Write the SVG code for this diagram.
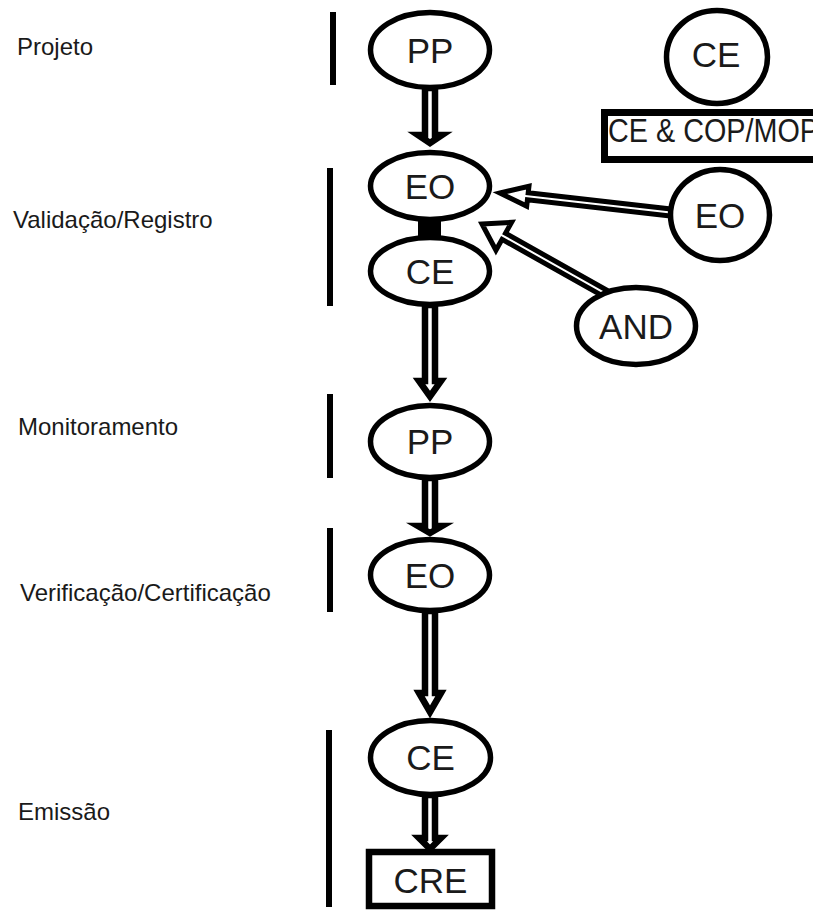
<svg xmlns="http://www.w3.org/2000/svg" width="813" height="911" viewBox="0 0 813 911">
<style>
.node{fill:#fff;stroke:#000;stroke-width:5.5}
.box{fill:#fff;stroke:#000;stroke-width:6.5}
.nt{font-family:"Liberation Sans",Arial,sans-serif;font-size:35px;fill:#1a1a1a;text-anchor:middle}
.lbl{font-family:"Liberation Sans",Arial,sans-serif;font-size:24px;fill:#1a1a1a}
.bar{stroke:#000;stroke-width:6}
.va{fill:#fff;stroke:#000;stroke-width:6.5;stroke-linejoin:miter;stroke-miterlimit:10}
.da{fill:#fff;stroke:#000;stroke-width:5;stroke-linejoin:miter;stroke-miterlimit:10}
</style>
<rect width="813" height="911" fill="#fff"/>
<g id="labels">
<text class="lbl" x="17" y="55">Projeto</text>
<text class="lbl" x="13" y="228">Validação/Registro</text>
<text class="lbl" x="18" y="435">Monitoramento</text>
<text class="lbl" x="20" y="601">Verificação/Certificação</text>
<text class="lbl" x="18" y="820">Emissão</text>
</g>
<g id="bars">
<line class="bar" x1="333" y1="12" x2="333" y2="85"/>
<line class="bar" x1="330" y1="168" x2="330" y2="306"/>
<line class="bar" x1="330" y1="394" x2="330" y2="478"/>
<line class="bar" x1="330" y1="528" x2="330" y2="612"/>
<line class="bar" x1="329" y1="730" x2="329" y2="907"/>
</g>
<g id="connectors">
<polygon class="va" points="425,88 435,88 435,135 442,135 430,143 418,135 425,135"/>
<polygon class="va" points="425,305 435,305 435,381 441,381 430,396.5 419,381 425,381"/>
<polygon class="va" points="425,478 435,478 435,526 442,526 430,533 418,526 425,526"/>
<polygon class="va" points="425,611 435,611 435,693 441,693 430,712 419,693 425,693"/>
<polygon class="va" points="425,795 435,795 435,838 441,838 430,849 419,838 425,838"/>
<polygon class="da" transform="translate(500,193) rotate(6.52)" points="0,0 28,-10 28,-3.5 176,-3.5 176,3.5 28,3.5 28,10"/>
<polygon class="da" transform="translate(482,224) rotate(29.36)" points="0,0 25,-16 25,-3.5 147,-3.5 147,3.5 25,3.5 25,16"/>
<rect x="418" y="220" width="23" height="18" fill="#000"/>
</g>
<g id="pp1"><ellipse class="node" cx="430" cy="50" rx="59.5" ry="37.5"/><text class="nt" x="430" y="63">PP</text></g>
<g id="eo1"><ellipse class="node" cx="430" cy="186" rx="59.5" ry="33.5"/><text class="nt" x="430" y="199">EO</text></g>
<g id="ce1"><ellipse class="node" cx="430" cy="271" rx="59.5" ry="33.5"/><text class="nt" x="430" y="284">CE</text></g>
<g id="pp2"><ellipse class="node" cx="430" cy="441.5" rx="59.5" ry="36"/><text class="nt" x="430" y="454">PP</text></g>
<g id="eo2"><ellipse class="node" cx="430" cy="575" rx="59.5" ry="35.5"/><text class="nt" x="430" y="588">EO</text></g>
<g id="ce3"><ellipse class="node" cx="430.5" cy="757.5" rx="60" ry="37"/><text class="nt" x="430.5" y="770">CE</text></g>
<g id="cre"><rect class="box" x="369" y="852" width="123" height="54"/><text class="nt" x="430.5" y="893">CRE</text></g>
<g id="ce_top"><ellipse class="node" cx="717" cy="57" rx="50.5" ry="46.5"/><text class="nt" x="716" y="67">CE</text></g>
<g id="ce_cop_mop"><rect x="604.5" y="112.5" width="230" height="47" fill="#fff" stroke="#000" stroke-width="7"/><text class="nt" x="608" y="142" style="text-anchor:start;font-size:34px" textLength="211" lengthAdjust="spacingAndGlyphs">CE &amp; COP/MOP</text></g>
<g id="eo_right"><ellipse class="node" cx="720" cy="215" rx="49.5" ry="45.5"/><text class="nt" x="720" y="228">EO</text></g>
<g id="and"><ellipse class="node" cx="636" cy="326" rx="59.5" ry="38.5"/><text class="nt" x="636" y="339">AND</text></g>
</svg>
